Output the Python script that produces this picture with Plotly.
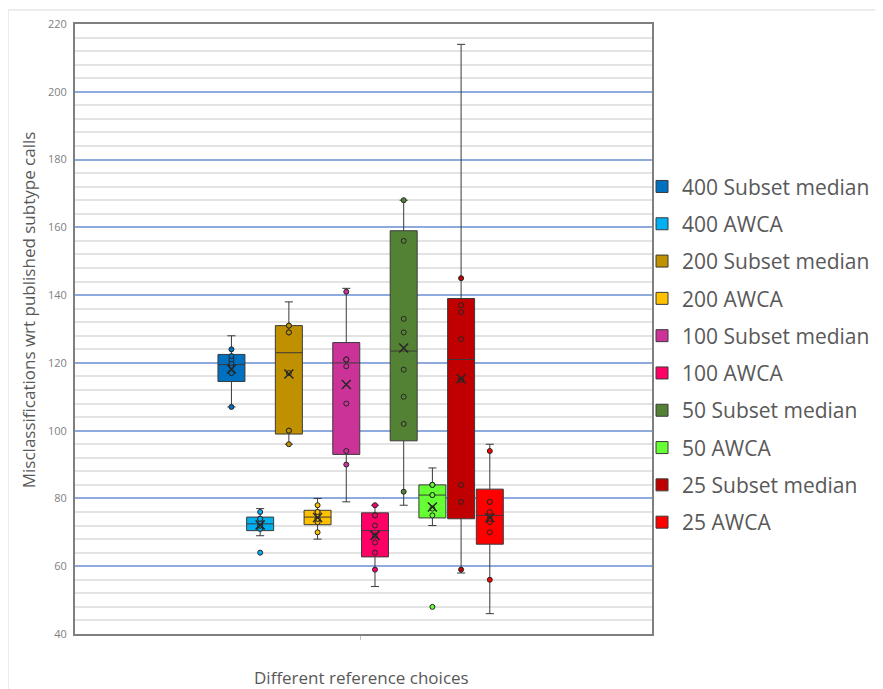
import numpy as np
import plotly.graph_objects as go

series_names = ["400 Subset median", "400 AWCA", "200 Subset median", "200 AWCA",
                "100 Subset median", "100 AWCA", "50 Subset median", "50 AWCA",
                "25 Subset median", "25 AWCA"]
series_colors = ["#0070C0", "#00B0F0", "#BF9000", "#FFC000", "#CC3399",
                 "#FF0066", "#548235", "#66FF33", "#C00000", "#FF0000"]

values_400_subset = [107, 107, 117, 117, 119, 120, 121, 122, 124, 128]
values_400_awca = [64, 69, 71, 72, 72, 73, 74, 74, 76, 77]
values_200_subset = [96, 96, 100, 100, 117, 129, 129, 131, 131, 138]
values_200_awca = [68, 70, 73, 74, 74, 75, 76, 76, 78, 80]
values_100_subset = [79, 90, 94, 108, 119, 121, 121, 121, 141, 142]
values_100_awca = [54, 59, 64, 67, 69, 72, 75, 75, 78, 78]
values_50_subset = [78, 82, 102, 110, 118, 129, 133, 156, 168, 168]
values_50_awca = [48, 72, 75, 77, 81, 81, 84, 84, 84, 89]
values_25_subset = [58, 59, 79, 84, 115, 127, 135, 137, 145, 214]
values_25_awca = [46, 56, 70, 73, 74, 76, 79, 79, 94, 96]

all_values = [values_400_subset, values_400_awca, values_200_subset, values_200_awca,
              values_100_subset, values_100_awca, values_50_subset, values_50_awca,
              values_25_subset, values_25_awca]

y_title = "Misclassifications wrt published subtype calls"
x_title = "Different reference choices"


def excel_box_stats(vals):
    v = np.sort(np.array(vals, dtype=float))
    q1 = float(np.percentile(v, 25, method="weibull"))
    med = float(np.median(v))
    q3 = float(np.percentile(v, 75, method="weibull"))
    iqr = q3 - q1
    inside = v[(v >= q1 - 1.5 * iqr) & (v <= q3 + 1.5 * iqr)]
    lf, uf = float(inside.min()), float(inside.max())
    pts = list(v)
    pts.remove(lf)
    pts.remove(uf)
    return q1, med, q3, lf, uf, float(v.mean()), pts


fig = go.Figure()
edge = "#3a3a3a"
for pos, (name, color, vals) in enumerate(zip(series_names, series_colors, all_values)):
    q1, med, q3, lf, uf, mean, pts = excel_box_stats(vals)
    fig.add_trace(go.Box(
        name=name, x=[pos], q1=[q1], median=[med], q3=[q3],
        lowerfence=[lf], upperfence=[uf],
        fillcolor=color, line=dict(color=edge, width=1),
        width=0.94, whiskerwidth=0.3, boxpoints=False,
        legendgroup=name, showlegend=True,
    ))
    fig.add_trace(go.Scatter(
        x=[pos] * len(pts), y=pts, mode="markers",
        marker=dict(symbol="circle", size=5, color=color,
                    line=dict(color="#262626", width=1)),
        legendgroup=name, showlegend=False, hoverinfo="y",
    ))
    fig.add_trace(go.Scatter(
        x=[pos], y=[mean], mode="markers",
        marker=dict(symbol="x-thin", size=9, color="#262626",
                    line=dict(color="#262626", width=1.5)),
        legendgroup=name, showlegend=False, hoverinfo="y",
    ))

fig.update_layout(
    width=900, height=681,
    margin=dict(l=67, r=256, t=16, b=55),
    paper_bgcolor="white", plot_bgcolor="white",
    font=dict(family="Open Sans", color="#595959"),
    legend=dict(x=0.9827, xanchor="left", y=0.7667, yanchor="top",
                font=dict(family="Open Sans", size=21, color="#595959"),
                tracegroupgap=7, bgcolor="rgba(0,0,0,0)", itemwidth=30),
    xaxis=dict(range=[-5.45, 14.65], showgrid=False, zeroline=False,
               showticklabels=False, tickvals=[4.5], ticks="outside", ticklen=4,
               tickcolor="#bfbfbf", showline=True, linecolor="#7f7f7f",
               linewidth=2, mirror=True, automargin=False),
    yaxis=dict(range=[40, 220], tick0=40, dtick=20, showgrid=True,
               gridcolor="#8FAADC", gridwidth=1.5, zeroline=False,
               minor=dict(tick0=40, dtick=4, showgrid=True,
                          gridcolor="#E3E3E3", gridwidth=2),
               showline=True, linecolor="#7f7f7f", linewidth=2, mirror=True,
               ticks="", ticklabelstandoff=4, automargin=False,
               tickfont=dict(family="Open Sans", size=11, color="#7f7f7f")),
    annotations=[
        dict(text=y_title, xref="paper", yref="paper", x=-0.0812, y=0.531,
             textangle=-90, showarrow=False, xanchor="center", yanchor="middle",
             font=dict(family="Open Sans", size=17, color="#595959")),
        dict(text=x_title, xref="paper", yref="paper", x=0.497, y=-0.072,
             showarrow=False, xanchor="center", yanchor="middle",
             font=dict(family="Open Sans", size=17, color="#595959")),
    ],
    shapes=[dict(type="rect", xref="paper", yref="paper",
                 x0=-0.1161, x1=1.6, y0=-0.3, y1=1.023,
                 line=dict(color="#D9D9D9", width=1), layer="below")],
)

fig.write_html("out.html")
